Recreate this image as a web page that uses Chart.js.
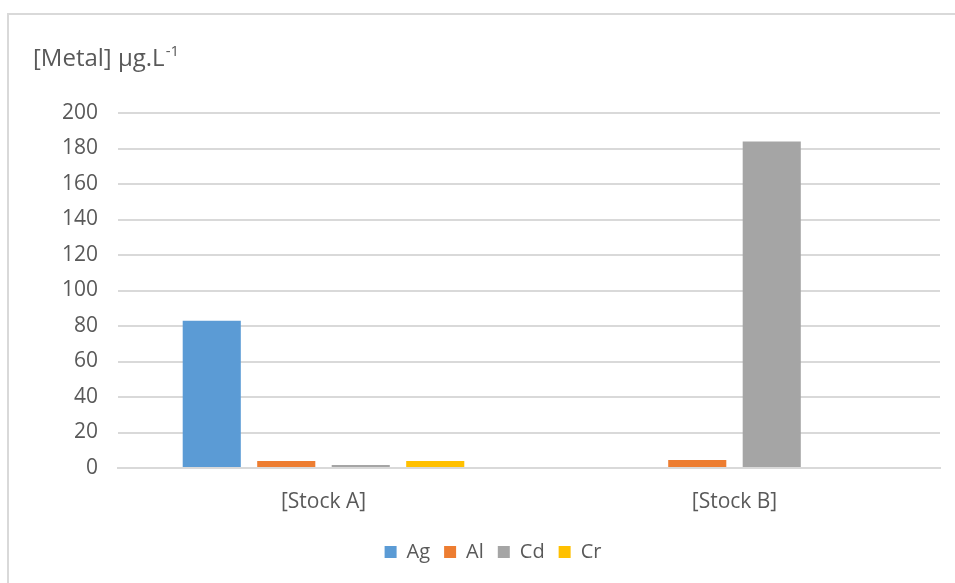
<!DOCTYPE html>
<html><head><meta charset="utf-8">
<script src="https://cdn.jsdelivr.net/npm/chart.js@4.4.1/dist/chart.umd.min.js"></script>
<style>
html,body{margin:0;padding:0;background:#fff;overflow:hidden;width:955px;height:583px;}
#frame{position:absolute;left:7px;top:13px;width:1000px;height:1000px;border:2px solid #d9d9d9;box-sizing:border-box;}
#wrap{position:absolute;left:0;top:0;width:955px;height:583px;}
</style></head>
<body>
<div id="frame"></div>
<div id="wrap"><canvas id="c" width="955" height="583"></canvas></div>
<script>
const categories = ['[Stock A]', '[Stock B]'];
const seriesNames = ['Ag', 'Al', 'Cd', 'Cr'];
const agValues = [83, 0];
const alValues = [4, 4.5];
const cdValues = [1.7, 184];
const crValues = [4, 0];
const yTicks = [0, 20, 40, 60, 80, 100, 120, 140, 160, 180, 200];
const titleMain = '[Metal] µg.L';
const titleSup = '-1';

const colors = ['#5B9BD5', '#ED7D31', '#A5A5A5', '#FFC000'];
const textColor = '#595959';
const FONT = '"Open Sans", "Liberation Sans", sans-serif';

const titlePlugin = {
  id: 'unitTitle',
  afterDraw(chart) {
    const ctx = chart.ctx;
    ctx.save();
    ctx.fillStyle = textColor;
    ctx.textBaseline = 'alphabetic';
    ctx.font = '24px ' + FONT;
    ctx.fillText(titleMain, 33, 66);
    const w = ctx.measureText(titleMain).width;
    ctx.font = '15px ' + FONT;
    ctx.fillText(titleSup, 33 + w + 1, 56);
    ctx.restore();
  }
};

const values = [agValues, alValues, cdValues, crValues];
new Chart(document.getElementById('c'), {
  type: 'bar',
  data: {
    labels: categories,
    datasets: seriesNames.map((n, i) => ({
      label: n,
      data: values[i],
      backgroundColor: colors[i],
      borderColor: colors[i],
      borderWidth: 0,
      categoryPercentage: 0.725,
      barPercentage: 0.78
    }))
  },
  options: {
    responsive: false,
    animation: false,
    devicePixelRatio: 1,
    layout: { padding: { left: 46, right: 15, top: 113, bottom: 11 } },
    plugins: {
      title: { display: false },
      tooltip: { enabled: false },
      legend: {
        position: 'bottom',
        labels: {
          color: textColor,
          font: { family: FONT, size: 20 },
          boxWidth: 12, boxHeight: 12,
          padding: 14
        }
      }
    },
    scales: {
      x: {
        grid: { display: false, drawTicks: false },
        border: { display: true, color: '#d9d9d9', width: 2 },
        ticks: { color: textColor, font: { family: FONT, size: 21 }, padding: 21 },
        afterFit(s) { s.height = 60; }
      },
      y: {
        min: 0, max: 200,
        afterBuildTicks(s) { s.ticks = yTicks.map(v => ({ value: v })); },
        grid: { color: '#d9d9d9', lineWidth: 2, drawTicks: false },
        border: { display: false },
        ticks: { color: textColor, font: { family: FONT, size: 21 }, padding: 20 },
        afterFit(s) { s.width = 72; }
      }
    }
  },
  plugins: [titlePlugin]
});
</script>
</body></html>
